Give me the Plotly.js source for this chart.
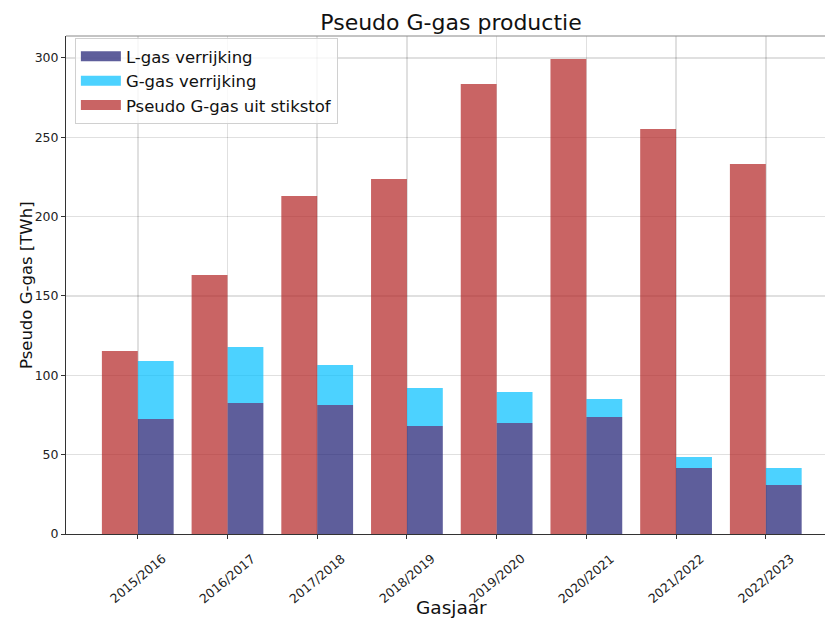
<!DOCTYPE html>
<html>
<head>
<meta charset="utf-8">
<script src="https://cdn.plot.ly/plotly-3.0.1.min.js"></script>
<style>html,body{margin:0;padding:0;background:#fff;overflow:hidden;}#chart{width:825px;height:619px;}</style>
</head>
<body>
<div id="chart"></div>
<script>
const categories = ["2015/2016","2016/2017","2017/2018","2018/2019","2019/2020","2020/2021","2021/2022","2022/2023"];
const pseudoStikstof = [115.3, 163.2, 213.0, 223.7, 283.6, 299.3, 255.2, 233.1];
const lGasVerrijking = [72.5, 82.5, 81.3, 68.0, 70.0, 73.7, 41.6, 30.9];
const gGasVerrijking = [36.5, 35.3, 25.2, 24.0, 19.5, 11.3, 6.9, 10.7];
const seriesNames = ["L-gas verrijking", "G-gas verrijking", "Pseudo G-gas uit stikstof"];
const yTicks = [0, 50, 100, 150, 200, 250, 300];

const colL = "rgba(25,25,112,0.7)";
const colG = "rgba(0,191,255,0.7)";
const colP = "rgba(178,34,34,0.7)";

const idx = categories.map((c, i) => i);
const font = "DejaVu Sans, sans-serif";

const traces = [
  {type: "bar", name: seriesNames[0], x: idx.map(i => i + 0.2), y: lGasVerrijking, width: 0.4,
   marker: {color: colL, line: {width: 0}}, showlegend: false},
  {type: "bar", name: seriesNames[1], x: idx.map(i => i + 0.2), y: gGasVerrijking, width: 0.4,
   base: lGasVerrijking, marker: {color: colG, line: {width: 0}}, showlegend: false},
  {type: "bar", name: seriesNames[2], x: idx.map(i => i - 0.2), y: pseudoStikstof, width: 0.4,
   marker: {color: colP, line: {width: 0}}, showlegend: false},
  // legend entries (wide rectangular swatches)
  {type: "scatter", mode: "lines", name: seriesNames[0], x: [null], y: [null], line: {color: colL, width: 11}},
  {type: "scatter", mode: "lines", name: seriesNames[1], x: [null], y: [null], line: {color: colG, width: 11}},
  {type: "scatter", mode: "lines", name: seriesNames[2], x: [null], y: [null], line: {color: colP, width: 11}}
];

const annotations = categories.map((c, i) => ({
  text: c, x: i, xref: "x", y: 0, yref: "paper", yanchor: "top", xanchor: "center",
  yshift: -14, textangle: -40, showarrow: false,
  font: {size: 12.5, family: font, color: "#222"}
}));
annotations.push({
  text: "Gasjaar", xref: "paper", x: (451 - 66) / 759, xanchor: "center",
  yref: "paper", y: (534 - 607) / 498, yanchor: "middle", showarrow: false,
  font: {size: 18.5, family: font, color: "#111"}
});
annotations.push({
  text: "Pseudo G-gas [TWh]", xref: "paper", x: (26 - 66) / 759, xanchor: "center",
  yref: "paper", y: (534 - 285) / 498, yanchor: "middle", textangle: -90, showarrow: false,
  font: {size: 16.5, family: font, color: "#111"}
});

const layout = {
  width: 825, height: 619,
  margin: {l: 66, r: 0, t: 36, b: 85},
  paper_bgcolor: "#fff", plot_bgcolor: "#fff",
  font: {family: font, color: "#222"},
  barmode: "overlay",
  showlegend: true,
  title: {text: "Pseudo G-gas productie", font: {size: 22, family: font, color: "#111"},
          xref: "paper", x: (451 - 66) / 759, xanchor: "center", y: 1 - 22/619, yanchor: "middle"},
  xaxis: {
    range: [-0.8, 7.66], tickmode: "array", tickvals: idx, showticklabels: false,
    ticks: "outside", ticklen: 4, tickcolor: "#333",
    showgrid: true, gridcolor: "rgba(0,0,0,0.12)", gridwidth: 1.5,
    showline: true, linecolor: "#333", linewidth: 1, mirror: false, zeroline: false
  },
  yaxis: {
    range: [0, 313.8], tickmode: "array", tickvals: yTicks,
    ticks: "outside", ticklen: 4, tickcolor: "#333", tickfont: {size: 12.5, family: font, color: "#222"},
    showgrid: true, gridcolor: "rgba(0,0,0,0.12)", gridwidth: 1.5,
    showline: true, linecolor: "#333", linewidth: 1, mirror: false, zeroline: false
  },
  shapes: [
    {type: "line", xref: "paper", yref: "paper", x0: 0, x1: 1, y0: 1, y1: 1,
     line: {color: "#888", width: 1}}
  ],
  annotations: annotations,
  legend: {
    x: 0.0117, y: 0.996, xanchor: "left", yanchor: "top",
    bgcolor: "rgba(255,255,255,0.8)", bordercolor: "#d0d0d0", borderwidth: 1,
    font: {size: 16.5, family: font, color: "#111"}, traceorder: "normal", itemwidth: 40
  }
};

Plotly.newPlot("chart", traces, layout, {displayModeBar: false, staticPlot: true});
</script>
</body>
</html>
